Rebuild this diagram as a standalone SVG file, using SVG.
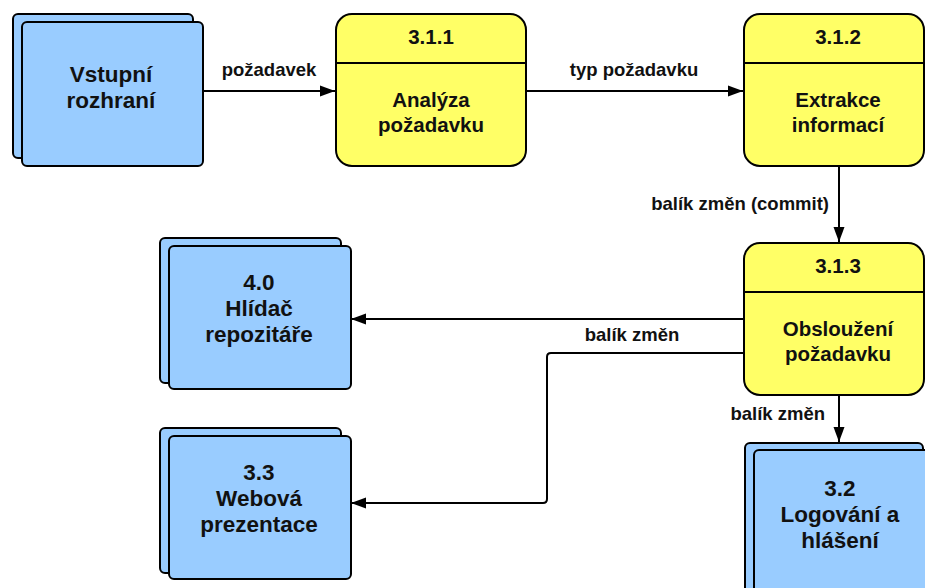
<svg xmlns="http://www.w3.org/2000/svg" width="925" height="588" viewBox="0 0 925 588">
<defs>
<marker id="arr" markerWidth="16" markerHeight="12" refX="15" refY="6" orient="auto" markerUnits="userSpaceOnUse">
<path d="M0,0.5 L15,6 L0,11.5 Z" fill="#000"/>
</marker>
<style>
.ext{fill:#99ccff;stroke:#000;stroke-width:2}
.proc{fill:#ffff66;stroke:#000;stroke-width:2}
.t{font-family:"Liberation Sans",Arial,sans-serif;font-weight:bold;fill:#111;text-anchor:middle}
.e{font-size:22.5px}
.n{font-size:20.5px}
.id{font-size:20.5px}
.lbl{font-family:"Liberation Sans",Arial,sans-serif;font-weight:bold;fill:#111;font-size:18.5px}
.c{fill:none;stroke:#000;stroke-width:2}
</style>
</defs>
<rect width="925" height="588" fill="#fff"/>

<g id="connectors">
<line class="c" x1="203" y1="91" x2="335" y2="91" marker-end="url(#arr)"/>
<text class="lbl" x="269" y="76" text-anchor="middle">požadavek</text>
<line class="c" x1="526" y1="91" x2="743" y2="91" marker-end="url(#arr)"/>
<text class="lbl" x="634" y="76" text-anchor="middle">typ požadavku</text>
<line class="c" x1="839" y1="167" x2="839" y2="242" marker-end="url(#arr)"/>
<text class="lbl" x="829" y="210" text-anchor="end">balík změn (commit)</text>
<line class="c" x1="744" y1="319" x2="351" y2="319" marker-end="url(#arr)"/>
<text class="lbl" x="632" y="341" text-anchor="middle">balík změn</text>
<path class="c" d="M744,353 L551,353 Q547,353 547,357 L547,499 Q547,503 543,503 L351,503" marker-end="url(#arr)"/>
<line class="c" x1="839" y1="395" x2="839" y2="442" marker-end="url(#arr)"/>
<text class="lbl" x="825" y="420" text-anchor="end">balík změn</text>
</g>

<g id="vstupni">
<rect class="ext" x="13" y="14" width="180" height="144" rx="5"/>
<rect class="ext" x="22" y="22" width="181" height="144" rx="5"/>
<text class="t e" x="111" y="82">Vstupní</text>
<text class="t e" x="111" y="108">rozhraní</text>
</g>

<g id="p311">
<rect class="proc" x="336" y="14" width="190" height="152" rx="16"/>
<line class="c" x1="336" y1="63" x2="526" y2="63"/>
<text class="t id" x="431" y="44">3.1.1</text>
<text class="t n" x="431" y="107">Analýza</text>
<text class="t n" x="431" y="132">požadavku</text>
</g>

<g id="p312">
<rect class="proc" x="744" y="14" width="180" height="152" rx="16"/>
<line class="c" x1="744" y1="63" x2="924" y2="63"/>
<text class="t id" x="838" y="44">3.1.2</text>
<text class="t n" x="838" y="107">Extrakce</text>
<text class="t n" x="838" y="132">informací</text>
</g>

<g id="p313">
<rect class="proc" x="744" y="243" width="180" height="152" rx="16"/>
<line class="c" x1="744" y1="292" x2="924" y2="292"/>
<text class="t id" x="838" y="273">3.1.3</text>
<text class="t n" x="838" y="336">Obsloužení</text>
<text class="t n" x="838" y="361">požadavku</text>
</g>

<g id="hlidac">
<rect class="ext" x="160" y="238" width="181" height="145" rx="5"/>
<rect class="ext" x="169" y="246" width="182" height="143" rx="5"/>
<text class="t e" x="259" y="290">4.0</text>
<text class="t e" x="259" y="316">Hlídač</text>
<text class="t e" x="259" y="342">repozitáře</text>
</g>

<g id="web">
<rect class="ext" x="160" y="428" width="181" height="145" rx="5"/>
<rect class="ext" x="169" y="436" width="182" height="143" rx="5"/>
<text class="t e" x="259" y="480">3.3</text>
<text class="t e" x="259" y="506">Webová</text>
<text class="t e" x="259" y="532">prezentace</text>
</g>

<g id="log">
<rect class="ext" x="745" y="443" width="178" height="160" rx="5"/>
<rect class="ext" x="754" y="450" width="185" height="150" rx="5"/>
<text class="t e" x="840" y="496">3.2</text>
<text class="t e" x="840" y="522">Logování a</text>
<text class="t e" x="840" y="548">hlášení</text>
</g>
</svg>
